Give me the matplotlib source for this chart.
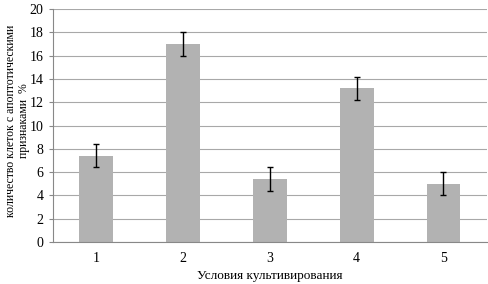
import matplotlib
matplotlib.use("Agg")
import matplotlib.pyplot as plt
import numpy as np

categories = ["1", "2", "3", "4", "5"]
values = [7.4, 17.0, 5.4, 13.2, 5.0]
errors = [1.0, 1.0, 1.0, 1.0, 1.0]
yticks = [0, 2, 4, 6, 8, 10, 12, 14, 16, 18, 20]

plt.rcParams['font.family'] = ['Liberation Serif', 'DejaVu Serif']

fig = plt.figure(figsize=(4.88, 2.84), dpi=100)
ax = fig.add_axes([0.1086, 0.148, 0.889, 0.82])

x = np.arange(len(categories))
ax.bar(x, values, width=0.39, color='#b2b2b2', zorder=2)
ax.errorbar(x, values, yerr=errors, fmt='none', ecolor='black', elinewidth=1.0,
            capsize=2.5, capthick=1.0, zorder=3)

ax.set_xlim(-0.5, len(categories) - 0.5)
ax.set_ylim(0, 20)
ax.set_yticks(yticks)
ax.set_yticklabels([str(t) for t in yticks], fontsize=10)
ax.set_xticks(x)
ax.set_xticklabels(categories, fontsize=10)
ax.tick_params(axis='x', which='major', length=0, pad=7)
ax.tick_params(axis='y', length=3, color='#888888', pad=4)

ax.grid(axis='y', color='#a8a8a8', linewidth=0.8, zorder=0)
for s in ['top', 'right']:
    ax.spines[s].set_visible(False)
for s in ['left', 'bottom']:
    ax.spines[s].set_color('#888888')
    ax.spines[s].set_linewidth(0.8)

ax.set_xlabel("Условия культивирования", fontsize=9.5, labelpad=4)
ax.set_ylabel("количество клеток с апоптотическими\nпризнаками  %", fontsize=8.5, linespacing=1.15)
ax.yaxis.set_label_coords(-0.052, 0.52)

fig.savefig("out.png", dpi=100)
